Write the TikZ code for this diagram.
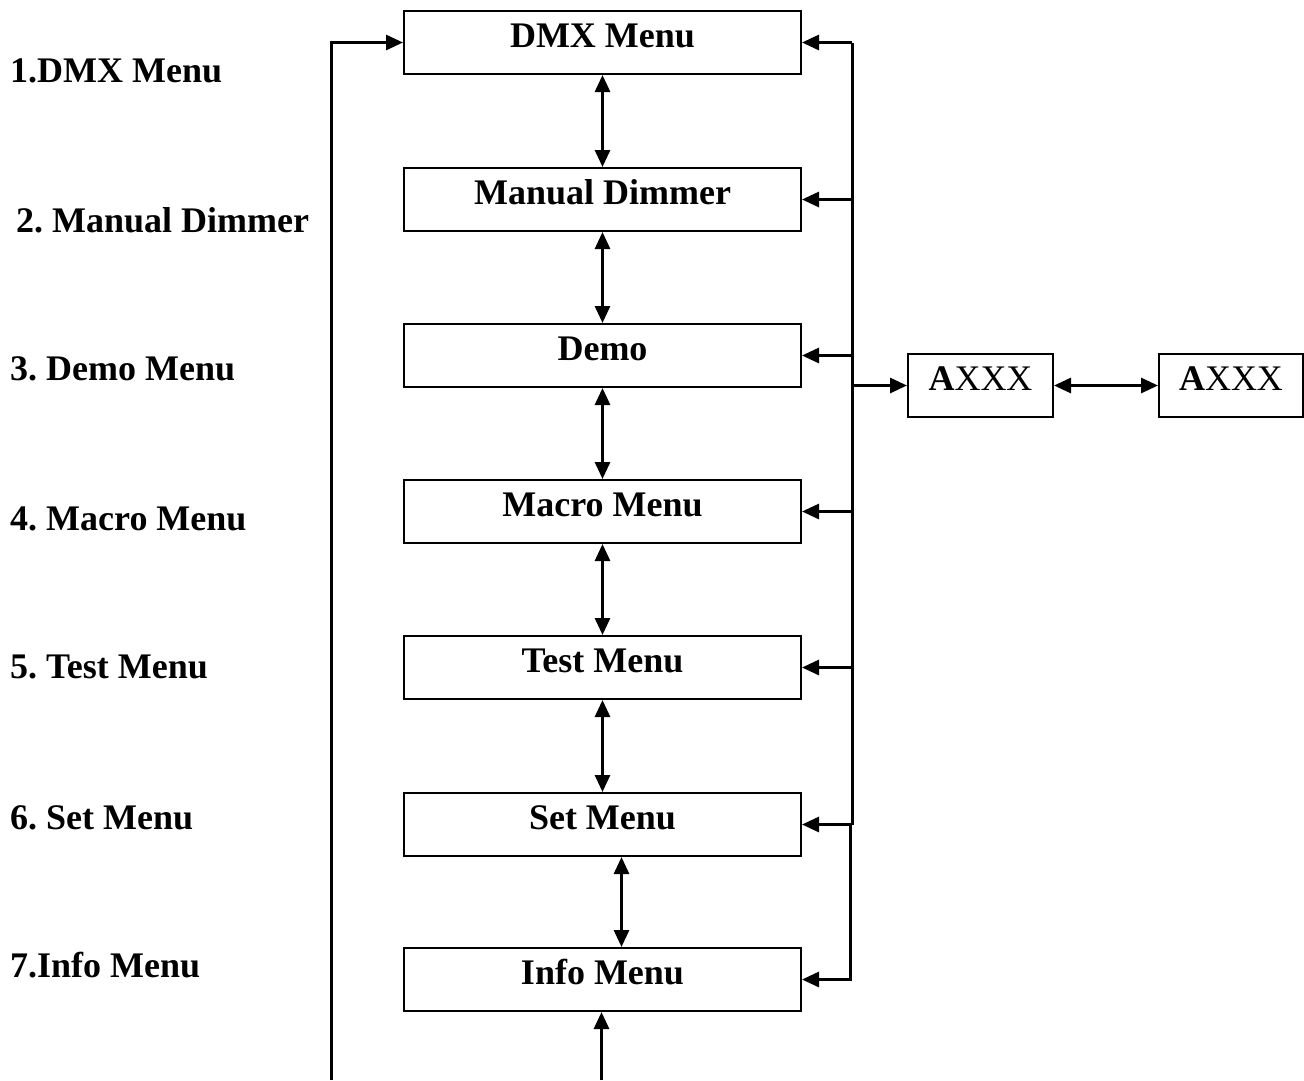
\documentclass[tikz,border=0pt]{standalone}
\usepackage{fontspec}
\setmainfont{Liberation Serif}
\usetikzlibrary{arrows.meta}
\frenchspacing
\begin{document}
\begin{tikzpicture}[x=1pt,y=1pt,
  menubox/.style={draw, line width=2pt, anchor=north west, inner sep=0pt,
    minimum width=397pt, minimum height=63pt, text height=22pt, text depth=13pt,
    font=\fontsize{36pt}{40pt}\selectfont\bfseries},
  smallbox/.style={menubox, minimum width=145pt, font=\fontsize{36pt}{40pt}\selectfont},
  lbl/.style={anchor=base west, inner sep=0pt, font=\fontsize{36pt}{40pt}\selectfont\bfseries},
  tip/.tip={Triangle[length=17pt,width=15pt]},
  conn/.style={line width=3pt, -tip},
  dconn/.style={line width=3pt, tip-tip},
  plain/.style={line width=3pt}]
\useasboundingbox (0,0) rectangle (1304,-1080);
\fill[white] (0,0) rectangle (1304,-1080);
% boxes
\node[menubox] (dmx)   at (403,-10)  {DMX Menu};
\node[menubox] (man)   at (403,-167) {Manual Dimmer};
\node[menubox] (demo)  at (403,-323) {Demo};
\node[menubox] (macro) at (403,-479) {Macro Menu};
\node[menubox] (test)  at (403,-635) {Test Menu};
\node[menubox] (set)   at (403,-792) {Set Menu};
\node[menubox] (info)  at (403,-947) {Info Menu};
\node[smallbox] (ax1) at (907,-353) {{\bfseries A}XXX};
\node[smallbox, minimum width=144pt] (ax2) at (1158,-353) {{\bfseries A}XXX};
% left labels
\node[lbl] (l1) at (10,-82)  {1.DMX Menu};
\node[lbl] (l2) at (16,-232) {2. Manual Dimmer};
\node[lbl] (l3) at (10,-380) {3. Demo Menu};
\node[lbl] (l4) at (10,-530) {4. Macro Menu};
\node[lbl] (l5) at (10,-678) {5. Test Menu};
\node[lbl] (l6) at (10,-829) {6. Set Menu};
\node[lbl] (l7) at (10,-977) {7.Info Menu};
% coordinates
\coordinate (bus) at (852,-42);
\coordinate (bus2) at (850,-823);
\coordinate (lb) at (331,-1080);
\coordinate (bb) at (601.5,-1080);
% vertical chain
\draw[dconn] (dmx) -- (man);
\draw[dconn] (man) -- (demo);
\draw[dconn] (demo) -- (macro);
\draw[dconn] (macro) -- (test);
\draw[dconn] (test) -- (set);
\draw[dconn] ([xshift=19pt]set.south) -- ([xshift=19pt]info.north);
\draw[conn] (bb) -- (bb |- info.south);
% left loop
\draw[conn] (lb) |- (dmx.west);
% right bus
\draw[plain] (bus |- dmx.east) -- (bus |- set.east);
\draw[conn] (bus |- dmx.east) -- (dmx.east);
\draw[conn] (bus |- man.east) -- (man.east);
\draw[conn] (bus |- demo.east) -- (demo.east);
\draw[conn] (bus |- macro.east) -- (macro.east);
\draw[conn] (bus |- test.east) -- (test.east);
\draw[conn] (bus |- set.east) -- (set.east);
\draw[conn] (bus2 |- set.east) -- (bus2 |- info.east) -- (info.east);
\draw[conn] (bus |- ax1.west) -- (ax1.west);
\draw[dconn] (ax1) -- (ax2);
\end{tikzpicture}
\end{document}
